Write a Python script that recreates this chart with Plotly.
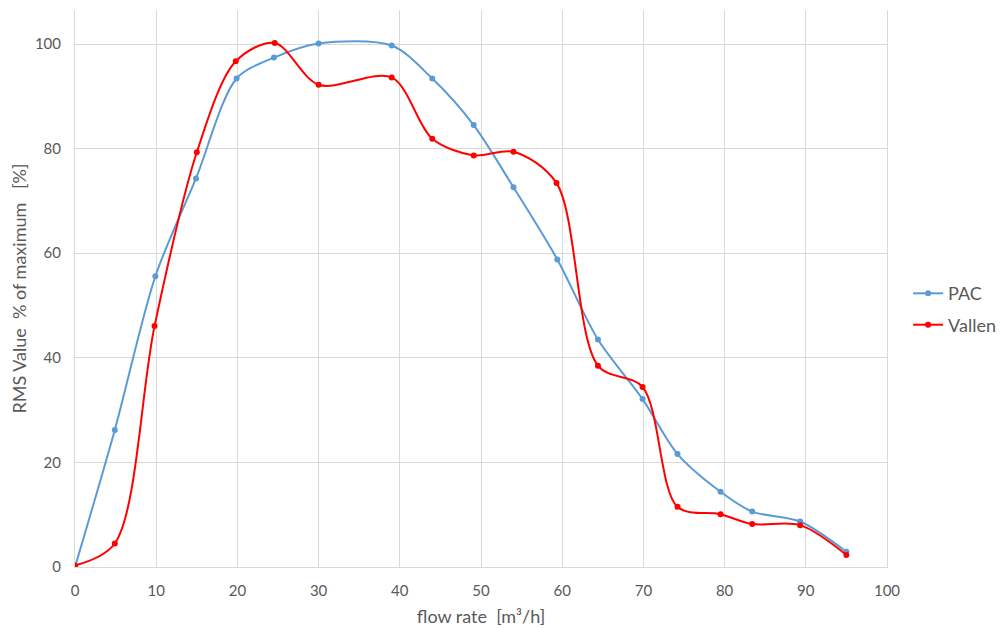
import plotly.graph_objects as go

pac_x = [0, 4.9, 9.9, 14.9, 19.9, 24.5, 30.0, 39.0, 44.0, 49.1, 54.0, 59.4, 64.4, 69.9, 74.2, 79.5, 83.4, 89.3, 95.0]
pac_y = [0, 26.2, 55.6, 74.3, 93.4, 97.4, 100.1, 99.7, 93.4, 84.5, 72.6, 58.8, 43.5, 32.1, 21.6, 14.4, 10.6, 8.7, 2.9]

vallen_x = [0, 4.9, 9.8, 15.0, 19.8, 24.6, 30.0, 39.0, 44.0, 49.1, 54.0, 59.3, 64.4, 69.9, 74.2, 79.5, 83.4, 89.3, 95.0]
vallen_y = [0.3, 4.5, 46.1, 79.3, 96.7, 100.2, 92.2, 93.6, 81.9, 78.7, 79.4, 73.4, 38.5, 34.4, 11.5, 10.1, 8.2, 8.0, 2.3]

x_ticks = [0, 10, 20, 30, 40, 50, 60, 70, 80, 90, 100]
y_ticks = [0, 20, 40, 60, 80, 100]

FONT = "Lato"
GRAY = "#595959"
GRID = "#d9d9d9"

fig = go.Figure()
fig.add_trace(go.Scatter(
    x=pac_x, y=pac_y, name="PAC", mode="lines+markers",
    line=dict(color="#5B9BD5", width=2, shape="spline", smoothing=0.85),
    marker=dict(color="#5B9BD5", size=6), legendgroup="a"))
fig.add_trace(go.Scatter(
    x=vallen_x, y=vallen_y, name="Vallen", mode="lines+markers",
    line=dict(color="#FF0000", width=2, shape="spline", smoothing=0.9),
    marker=dict(color="#FF0000", size=6), legendgroup="b"))

fig.update_layout(
    width=1006, height=628,
    margin=dict(l=67, r=127, t=2, b=69),
    plot_bgcolor="white", paper_bgcolor="white",
    font=dict(family=FONT, color=GRAY, size=15),
    legend=dict(x=1.026, y=0.463, xanchor="left", yanchor="middle",
                font=dict(size=18, color=GRAY), tracegroupgap=5,
                bgcolor="rgba(0,0,0,0)"),
    xaxis=dict(range=[0, 100], tickvals=x_ticks, showgrid=True, gridcolor=GRID,
               showline=True, linecolor=GRID, linewidth=1, zeroline=False,
               ticks="", ticklabelstandoff=10, automargin=False,
               title=dict(text="flow rate  [m³/h]", font=dict(size=18, color=GRAY), standoff=12)),
    yaxis=dict(range=[0, 106.5], tickvals=y_ticks, showgrid=True, gridcolor=GRID,
               showline=True, linecolor=GRID, linewidth=1, mirror=True, zeroline=False,
               ticks="", ticklabelstandoff=10, automargin=False,
               title=dict(text="RMS Value  % of maximum   [%]", font=dict(size=18, color=GRAY), standoff=19)),
)

fig.write_html("out.html")
